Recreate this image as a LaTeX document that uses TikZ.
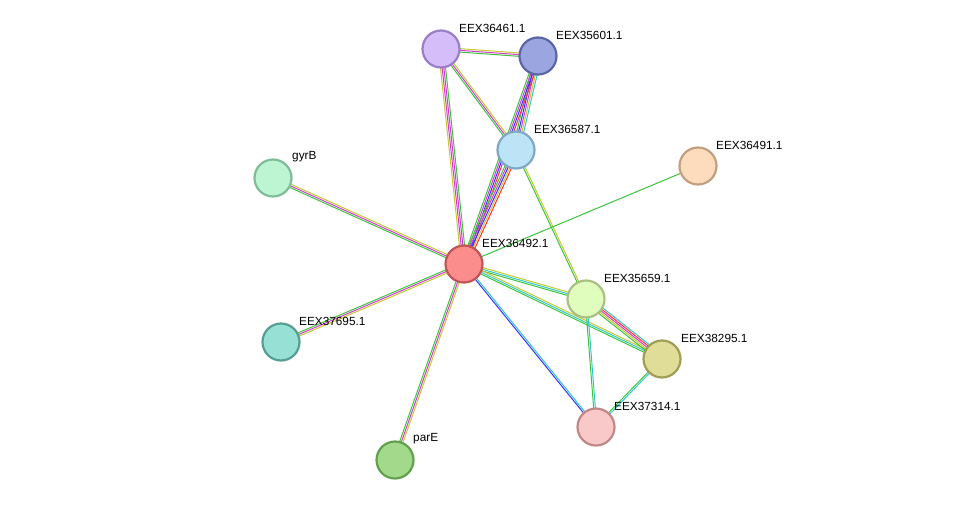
\documentclass[tikz,border=0pt]{standalone}
\usepackage{fontspec}
\setmainfont{Liberation Sans}
\usetikzlibrary{calc,backgrounds}
\definecolor{cg}{HTML}{3CC43C}
\definecolor{cy}{HTML}{C8C832}
\definecolor{cm}{HTML}{D23CD2}
\definecolor{cb}{HTML}{3232FF}
\definecolor{cc}{HTML}{32C8C8}
\definecolor{cr}{HTML}{FF3232}
\newcommand\medge[4]{%
  \foreach \c [count=\i] in {#4} {%
    \pgfmathsetmacro\o{(\i-(#3+1)/2)*1.7}%
    \draw[draw=\c,line width=1pt] ($(#1.center)!\o pt!90:(#2.center)$) -- ($(#2.center)!\o pt!-90:(#1.center)$);
  }}
\tikzset{prot/.style={circle,minimum size=37pt,inner sep=0pt,line width=2.2pt},
  lab/.style={font=\fontsize{11.8}{13}\selectfont,anchor=south west,inner sep=0pt}}
\begin{document}
\begin{tikzpicture}[x=1pt,y=-1pt]
\useasboundingbox (0,0) rectangle (976,506);
\def\N#1#2#3#4#5{\definecolor{f#1}{HTML}{#4}\definecolor{d#1}{HTML}{#5}\node[prot,fill=f#1,draw=d#1] (#1) at (#2,#3) {};}
\N{a}{441}{49}{D4BDF8}{9A7FC6}
\N{b}{538}{56}{9BA6E0}{5B66A8}
\N{c}{516}{150}{BDE3F7}{7FA8C3}
\N{d}{698}{166}{FDDCBD}{C0A07F}
\N{g}{273}{178}{BDF5D3}{7FBC98}
\N{e}{464}{264}{FB8D8D}{C05555}
\N{f}{586}{299}{E0FDBD}{A8C183}
\N{h}{662}{359}{DFDD97}{A09D55}
\N{k}{281}{342}{96E0D6}{569E93}
\N{m}{596}{427}{F9C8C8}{C08787}
\N{p}{395}{460}{A3D98B}{62A04D}
\begin{pgfonlayer}{background}
\medge{a}{b}{3}{cg,cm,cy}
\medge{a}{c}{3}{cg,cm,cy}
\medge{a}{e}{4}{cy,cm,cm,cg}
\medge{b}{c}{5}{cg,cb,cm,cy,cc}
\medge{b}{e}{4}{cg,cm,cb,cr}
\medge{c}{e}{5}{cg,cm,cb,cy,cr}
\medge{c}{f}{2}{cg,cy}
\medge{g}{e}{3}{cg,cm,cy}
\medge{d}{e}{1}{cg}
\medge{e}{f}{3}{cg,cc,cy}
\medge{e}{h}{3}{cg,cc,cy}
\medge{e}{m}{2}{cb,cc}
\medge{e}{k}{3}{cg,cm,cy}
\medge{e}{p}{3}{cg,cm,cy}
\medge{f}{h}{5}{cg,cy,cm,cr,cc}
\medge{f}{m}{2}{cg,cc}
\medge{h}{m}{2}{cg,cc}
\end{pgfonlayer}
\node[lab] at (459,33) {EEX36461.1};
\node[lab] at (556,40) {EEX35601.1};
\node[lab] at (534,134) {EEX36587.1};
\node[lab] at (716,150) {EEX36491.1};
\node[lab] at (292,162) {gyrB};
\node[lab] at (482,248) {EEX36492.1};
\node[lab] at (604,283) {EEX35659.1};
\node[lab] at (681,343) {EEX38295.1};
\node[lab] at (299,326) {EEX37695.1};
\node[lab] at (614,411) {EEX37314.1};
\node[lab] at (413,444) {parE};
\end{tikzpicture}
\end{document}
